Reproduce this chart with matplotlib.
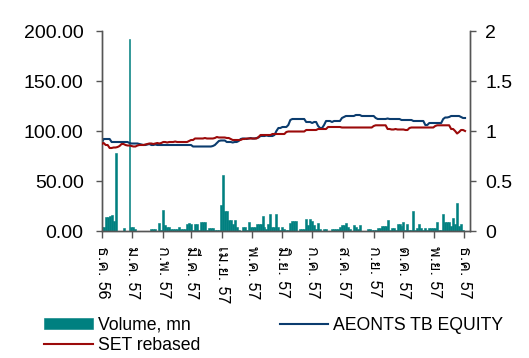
import matplotlib
matplotlib.use("Agg")
import matplotlib.pyplot as plt
from matplotlib import font_manager, ft2font
from matplotlib.ticker import FormatStrFormatter, FuncFormatter
import pandas as pd

# ---------------- data ----------------
start_date = "2013-12-01"
n_points = 184  # one reading every two calendar days

volume_mn = [
    4, 4, 14, 14, 15, 16, 10, 78, 0, 0,
    0, 3, 0, 0, 192, 4, 4, 2, 0, 0,
    0, 0, 0, 0, 0, 2, 2, 2, 0, 8,
    1, 21, 6, 4, 4, 2, 2, 2, 2, 4,
    2, 2, 2, 7, 8, 7, 1, 7, 7, 1,
    9, 9, 9, 1, 3, 3, 3, 1, 1, 1,
    26, 56, 20, 20, 11, 11, 7, 11, 4, 1.5,
    0, 4, 4, 1.5, 9, 4, 4, 4, 7, 7,
    7, 15, 4, 2, 7, 17, 4, 4, 17, 4,
    1, 4, 2, 1, 1, 8, 10, 10, 10, 0.5,
    2, 2, 2, 12, 6, 12, 10, 6, 2, 8,
    2, 0.5, 2, 2, 0, 0, 2, 2, 2, 2,
    4, 6, 6, 8, 4, 2, 0.5, 6, 4, 2,
    6, 0.5, 0.5, 0.5, 2, 2, 1, 1, 1, 3,
    3, 5, 5, 5, 11, 1, 3, 3, 1, 7,
    7, 5, 9, 1, 7, 1, 1, 20, 1, 3,
    7, 3, 1, 3, 1, 3, 3, 3, 3, 9,
    1, 1, 17, 9, 9, 9, 5, 13, 7, 28,
    5, 7, 1, 0,
]

aeonts = [
    0.88, 0.92, 0.92, 0.92, 0.92, 0.89, 0.89, 0.89, 0.89, 0.89,
    0.89, 0.89, 0.89, 0.89, 0.88, 0.875, 0.875, 0.875, 0.875, 0.87,
    0.865, 0.86, 0.86, 0.865, 0.87, 0.86, 0.86, 0.865, 0.86, 0.86,
    0.86, 0.86, 0.86, 0.86, 0.86, 0.86, 0.86, 0.86, 0.86, 0.86,
    0.86, 0.86, 0.86, 0.86, 0.86, 0.86, 0.845, 0.845, 0.845, 0.845,
    0.845, 0.845, 0.845, 0.845, 0.845, 0.845, 0.85, 0.86, 0.88, 0.90,
    0.905, 0.905, 0.905, 0.89, 0.89, 0.89, 0.885, 0.89, 0.89, 0.90,
    0.92, 0.925, 0.925, 0.92, 0.925, 0.93, 0.925, 0.925, 0.93, 0.935,
    0.95, 0.95, 0.95, 0.955, 0.95, 0.95, 0.95, 0.96, 1.00, 1.03,
    1.03, 1.04, 1.04, 1.04, 1.06, 1.11, 1.12, 1.12, 1.12, 1.12,
    1.12, 1.12, 1.12, 1.09, 1.09, 1.09, 1.08, 1.09, 1.09, 1.05,
    1.03, 1.03, 1.06, 1.10, 1.10, 1.10, 1.09, 1.10, 1.10, 1.10,
    1.10, 1.13, 1.14, 1.15, 1.15, 1.15, 1.15, 1.15, 1.16, 1.16,
    1.16, 1.15, 1.15, 1.15, 1.15, 1.15, 1.15, 1.15, 1.13, 1.12,
    1.12, 1.12, 1.12, 1.12, 1.125, 1.12, 1.12, 1.12, 1.12, 1.12,
    1.12, 1.11, 1.11, 1.11, 1.11, 1.11, 1.11, 1.10, 1.10, 1.10,
    1.10, 1.10, 1.10, 1.06, 1.06, 1.08, 1.08, 1.08, 1.08, 1.08,
    1.08, 1.08, 1.12, 1.135, 1.135, 1.14, 1.15, 1.15, 1.15, 1.15,
    1.15, 1.14, 1.13, 1.13,
]

set_rebased = [
    0.87, 0.88, 0.86, 0.86, 0.83, 0.83, 0.835, 0.835, 0.84, 0.85,
    0.87, 0.87, 0.86, 0.855, 0.855, 0.85, 0.845, 0.845, 0.855, 0.86,
    0.86, 0.86, 0.865, 0.87, 0.875, 0.875, 0.87, 0.875, 0.88, 0.875,
    0.88, 0.89, 0.89, 0.885, 0.89, 0.89, 0.89, 0.895, 0.89, 0.89,
    0.89, 0.89, 0.89, 0.89, 0.90, 0.91, 0.91, 0.925, 0.925, 0.925,
    0.925, 0.925, 0.93, 0.925, 0.925, 0.925, 0.925, 0.93, 0.94, 0.935,
    0.935, 0.935, 0.935, 0.93, 0.93, 0.92, 0.91, 0.91, 0.91, 0.91,
    0.91, 0.92, 0.92, 0.925, 0.925, 0.925, 0.925, 0.925, 0.925, 0.94,
    0.96, 0.96, 0.96, 0.96, 0.96, 0.96, 0.97, 0.97, 0.97, 0.97,
    0.97, 0.97, 0.97, 0.99, 0.995, 0.995, 0.995, 0.995, 0.995, 0.995,
    0.995, 0.995, 0.995, 1.01, 1.01, 1.01, 1.01, 1.01, 1.01, 1.02,
    1.02, 1.02, 1.02, 1.02, 1.04, 1.04, 1.04, 1.04, 1.04, 1.04,
    1.04, 1.035, 1.035, 1.035, 1.035, 1.035, 1.035, 1.035, 1.035, 1.035,
    1.035, 1.035, 1.035, 1.035, 1.035, 1.035, 1.035, 1.05, 1.057, 1.057,
    1.057, 1.057, 1.057, 1.057, 1.02, 1.02, 1.015, 1.015, 1.02, 1.015,
    1.015, 1.015, 1.015, 1.01, 1.01, 1.03, 1.035, 1.035, 1.035, 1.035,
    1.035, 1.035, 1.035, 1.035, 1.035, 1.035, 1.035, 1.035, 1.05, 1.057,
    1.057, 1.057, 1.057, 1.057, 1.057, 1.057, 1.02, 1.02, 1.00, 0.975,
    0.99, 1.01, 1.01, 1.00,
]

month_ticks = ["2013-12-01", "2014-01-01", "2014-02-01", "2014-03-01", "2014-04-01",
               "2014-05-01", "2014-06-01", "2014-07-01", "2014-08-01", "2014-09-01",
               "2014-10-01", "2014-11-01", "2014-12-01"]
month_labels = ["ธ.ค. 56", "ม.ค. 57", "ก.พ. 57", "มี.ค. 57", "เม.ย. 57", "พ.ค. 57",
                "มิ.ย. 57", "ก.ค. 57", "ส.ค. 57", "ก.ย. 57", "ต.ค. 57", "พ.ย. 57", "ธ.ค. 57"]

left_ticks = [0, 50, 100, 150, 200]
right_ticks = [0, 0.5, 1, 1.5, 2]

# ---------------- fonts ----------------
thai_family = None
for f in font_manager.fontManager.ttflist:
    try:
        ft = ft2font.FT2Font(f.fname)
        cm = ft.get_charmap()
        if 0x0E18 in cm and 0x0E04 in cm:
            thai_family = f.name
            break
    except Exception:
        pass

base_font = ["Liberation Sans", "DejaVu Sans"]
plt.rcParams["font.family"] = base_font
thai_fonts = ([thai_family] if thai_family else []) + base_font

# ---------------- plot ----------------
dates = pd.date_range(start_date, periods=n_points, freq="2D")
n = min(len(dates), len(volume_mn), len(aeonts), len(set_rebased))
dates = dates[:n]

fig = plt.figure(figsize=(5.29, 3.58), dpi=100)
ax = fig.add_axes([101.7 / 529, 1 - 231 / 358, (470 - 101.7) / 529, 200 / 358])
ax2 = ax.twinx()

teal = "#008080"
spine_col = "#555555"
bars = ax.bar(dates, volume_mn[:n], width=2.0, color=teal, edgecolor=teal,
              linewidth=0.4, label="Volume, mn", align="center")
l1, = ax2.plot(dates, aeonts[:n], color="#0B3C6E", linewidth=1.5,
               label="AEONTS TB EQUITY", zorder=2)
l2, = ax2.plot(dates, set_rebased[:n], color="#9B0A0A", linewidth=1.5,
               label="SET rebased", zorder=3)

ax.set_ylim(0, 200)
ax2.set_ylim(0, 2)
ax.set_xlim(pd.Timestamp("2013-12-01"), pd.Timestamp("2014-12-07"))

ax.set_yticks(left_ticks)
ax.yaxis.set_major_formatter(FormatStrFormatter("%.2f"))
ax2.set_yticks(right_ticks)
ax2.yaxis.set_major_formatter(FuncFormatter(lambda v, p: f"{v:g}"))

ax.set_xticks(pd.to_datetime(month_ticks))
ax.set_xticklabels(month_labels, rotation=270, fontsize=11.5, family=thai_fonts,
                   va="top", ha="center")

for a in (ax, ax2):
    a.spines["top"].set_visible(False)
    for s in ("left", "right", "bottom"):
        a.spines[s].set_color(spine_col)
        a.spines[s].set_linewidth(1.0)

ax.tick_params(axis="y", direction="out", length=4, width=1, color=spine_col,
               labelsize=14, pad=9)
ax2.tick_params(axis="y", direction="out", length=4, width=1, color=spine_col,
                labelsize=14, pad=7)
ax.tick_params(axis="x", direction="out", length=5, width=1, color=spine_col,
               pad=6)

fig.legend(handles=[bars, l2, l1],
           labels=["Volume, mn", "SET rebased", "AEONTS TB EQUITY"],
           loc="upper left", bbox_to_anchor=(44 / 529, 1 - 317 / 358),
           ncol=2, frameon=False, fontsize=12.7, borderpad=0, borderaxespad=0,
           handlelength=2.75, handleheight=0.6, handletextpad=0.3,
           labelspacing=0.15, columnspacing=4.5)

fig.savefig("out.png", dpi=100)
